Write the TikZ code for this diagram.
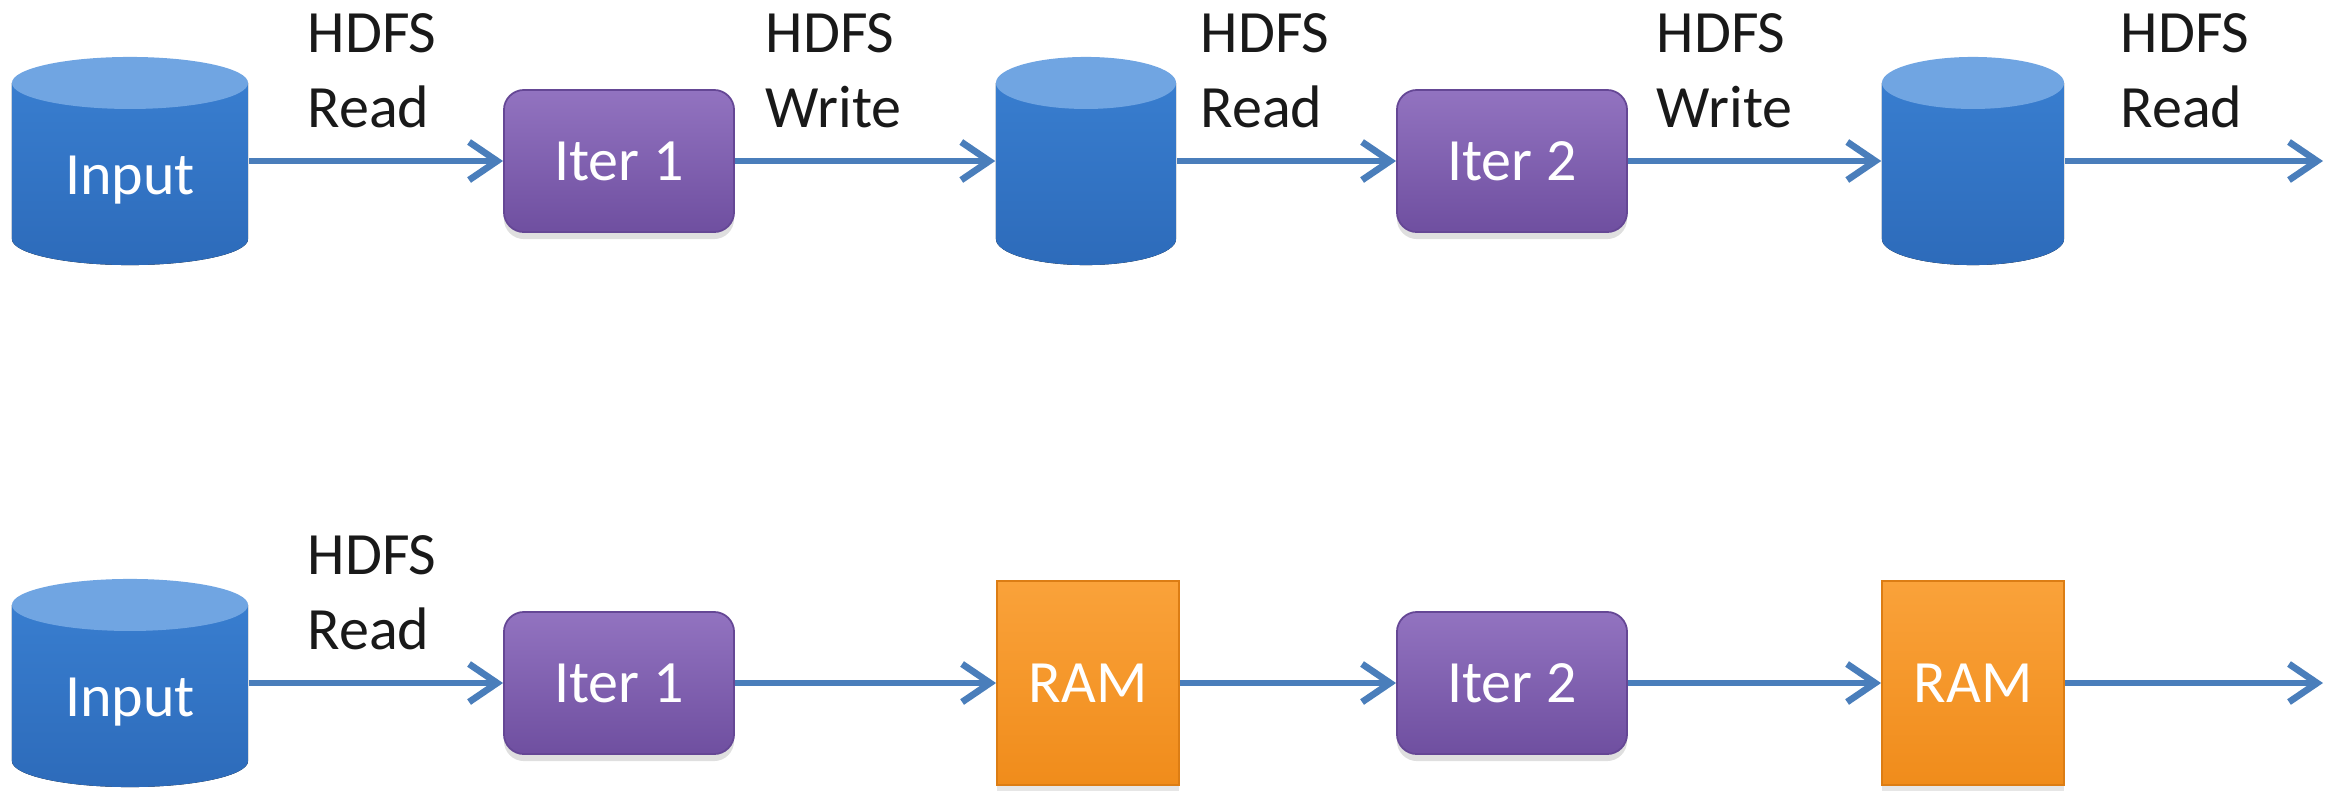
\documentclass[tikz,border=0pt]{standalone}
\usepackage{fontspec}
\setmainfont{Carlito}
\usetikzlibrary{arrows.meta,calc,shadows}
\definecolor{arrowblue}{HTML}{4A7EBB}
\definecolor{cylA}{HTML}{3A80D2}
\definecolor{cylB}{HTML}{2D6BBA}
\definecolor{cyltop}{HTML}{70A5E2}
\definecolor{purT}{HTML}{9273C0}
\definecolor{purM}{HTML}{7D5DAE}
\definecolor{purB}{HTML}{6F4FA0}
\definecolor{purE}{HTML}{654795}
\definecolor{oraT}{HTML}{FAA23A}
\definecolor{oraM}{HTML}{F7951F}
\definecolor{oraB}{HTML}{F08C1B}
\definecolor{oraE}{HTML}{DC7D14}
\newcommand{\picfont}{\fontsize{17.07pt}{21.3pt}\selectfont}
\begin{document}
\begin{tikzpicture}[x=0.01cm,y=-0.01cm,
  cyl/.style={minimum width=#1, minimum height=2.08cm, inner sep=0pt,
    text=white, font=\picfont, text height=0.66cm, text depth=0pt,
    path picture={
      \fill[top color=cylA, bottom color=cylB]
        let \p1=(path picture bounding box.south west),
            \p2=(path picture bounding box.north east) in
        ({\x1},{\y2-0.26cm}) -- ({\x1},{\y1+0.26cm})
        arc[start angle=180, end angle=360, x radius={(\x2-\x1)/2}, y radius=0.26cm]
        -- ({\x2},{\y2-0.26cm}) -- cycle;
      \fill[cyltop]
        let \p1=(path picture bounding box.south west),
            \p2=(path picture bounding box.north east) in
        ({(\x1+\x2)/2},{\y2-0.26cm}) ellipse [x radius={(\x2-\x1)/2}, y radius=0.26cm];
    }},
  iter/.style={minimum width=2.30cm, minimum height=1.42cm, inner sep=0pt,
    rounded corners=0.2cm, top color=purT, middle color=purM, bottom color=purB,
    draw=purE, line width=0.5pt, text=white, font=\picfont,
    text height=0.386cm, text depth=0pt,
    drop shadow={opacity=0.25, shadow xshift=0pt, shadow yshift=-2pt}},
  ram/.style={minimum width=1.82cm, minimum height=2.04cm, inner sep=0pt,
    top color=oraT, middle color=oraM, bottom color=oraB,
    draw=oraE, line width=0.5pt, text=white, font=\picfont,
    text height=0.386cm, text depth=0pt,
    drop shadow={opacity=0.2, shadow xshift=0pt, shadow yshift=-2pt}},
  lbl/.style={anchor=north west, inner sep=0pt, align=left, font=\picfont, text=black!90},
  arr/.style={draw=arrowblue, line width=1.9pt,
    -{Straight Barb[length=0.28cm, width=0.38cm]}}
]
\useasboundingbox (0,0) rectangle (2341,790);

% ---------- top row ----------
\node[cyl=2.36cm] (in1) at (130,161) {Input};
\node[iter] (it1) at (619,161) {Iter 1};
\node[cyl=1.80cm] (c2) at (1086,161) {};
\node[iter] (it2) at (1512,161) {Iter 2};
\node[cyl=1.82cm] (c3) at (1973,161) {};
\coordinate (e1) at (2323,161);

\draw[arr] (in1) -- (it1);
\draw[arr] (it1) -- (c2);
\draw[arr] (c2) -- (it2);
\draw[arr] (it2) -- (c3);
\draw[arr] (c3) -- (e1);

\node[lbl] (l1) at (307,13) {HDFS\\Read};
\node[lbl] (l2) at (765,13) {HDFS\\Write};
\node[lbl] (l3) at (1200,13) {HDFS\\Read};
\node[lbl] (l4) at (1656,13) {HDFS\\Write};
\node[lbl] (l5) at (2120,13) {HDFS\\Read};

% ---------- bottom row ----------
\node[cyl=2.36cm] (in2) at (130,683) {Input};
\node[iter] (it3) at (619,683) {Iter 1};
\node[ram] (r1) at (1088,683) {RAM};
\node[iter] (it4) at (1512,683) {Iter 2};
\node[ram] (r2) at (1973,683) {RAM};
\coordinate (e2) at (2323,683);

\draw[arr] (in2) -- (it3);
\draw[arr] (it3) -- (r1);
\draw[arr] (r1) -- (it4);
\draw[arr] (it4) -- (r2);
\draw[arr] (r2) -- (e2);

\node[lbl] (l6) at (307,535) {HDFS\\Read};
\end{tikzpicture}
\end{document}
